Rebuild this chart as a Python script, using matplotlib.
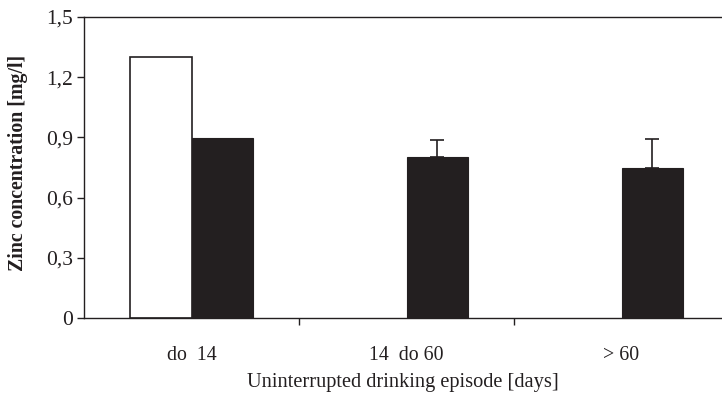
import matplotlib
matplotlib.use("Agg")
import matplotlib.pyplot as plt
import numpy as np

categories = ["do  14", "14  do 60", "> 60"]
white_vals = [1.30, np.nan, np.nan]
black_vals = [0.895, 0.80, 0.75]
black_err = [0.0, 0.085, 0.14]
yticks = [0, 0.3, 0.6, 0.9, 1.2, 1.5]
yticklabels = ["0", "0,3", "0,6", "0,9", "1,2", "1,5"]

plt.rcParams['font.family'] = ['Liberation Serif', 'DejaVu Serif']
dark = "#231f20"

fig = plt.figure(figsize=(7.22, 3.94), dpi=100)
# axes from x=84 to 729 px, y from 318 to 17 px
ax = fig.add_axes([84/722, (394-318)/394, (729-84)/722, (318-17)/394])

x = np.arange(len(categories))
w = 0.288
ax.bar(x - w/2, white_vals, w, color="white", edgecolor=dark, linewidth=1.2)
ax.bar(x + w/2, black_vals, w, color=dark, edgecolor=dark, linewidth=0.8)
err = np.array([np.zeros(3), black_err])
mask = np.array(black_err) > 0
ax.errorbar((x + w/2)[mask], np.array(black_vals)[mask], yerr=err[:, mask],
            fmt="none", ecolor=dark, elinewidth=1.2, capsize=5, capthick=1.2)

ax.set_xlim(-0.5, 2.5)
ax.set_ylim(0, 1.5)
ax.set_yticks(yticks)
ax.set_yticklabels(yticklabels, fontsize=15.5, color=dark)
ax.set_xticks([0.5, 1.5, 2.5], minor=False)
ax.set_xticklabels(["", "", ""])
ax.set_xticks(x, minor=True)
ax.set_xticklabels(categories, minor=True, fontsize=14.3, color=dark)
ax.tick_params(axis="x", which="minor", length=0, pad=20)
ax.tick_params(axis="x", which="major", length=5, width=1, color=dark, direction="out")
ax.tick_params(axis="y", length=5, width=1, color=dark, direction="out", pad=3)

for s in ["left", "bottom", "top", "right"]:
    ax.spines[s].set_color(dark)
    ax.spines[s].set_linewidth(1.0)

fig.text(403/722, 1 - 383/394, "Uninterrupted drinking episode [days]", ha="center", va="center",
         fontsize=14.7, color=dark)
fig.text(18/722, 1 - 163/394, "Zinc concentration [mg/l]", ha="center", va="center", rotation=90,
         fontsize=14.3, fontweight="bold", color=dark)

fig.savefig("out.png", dpi=100)
